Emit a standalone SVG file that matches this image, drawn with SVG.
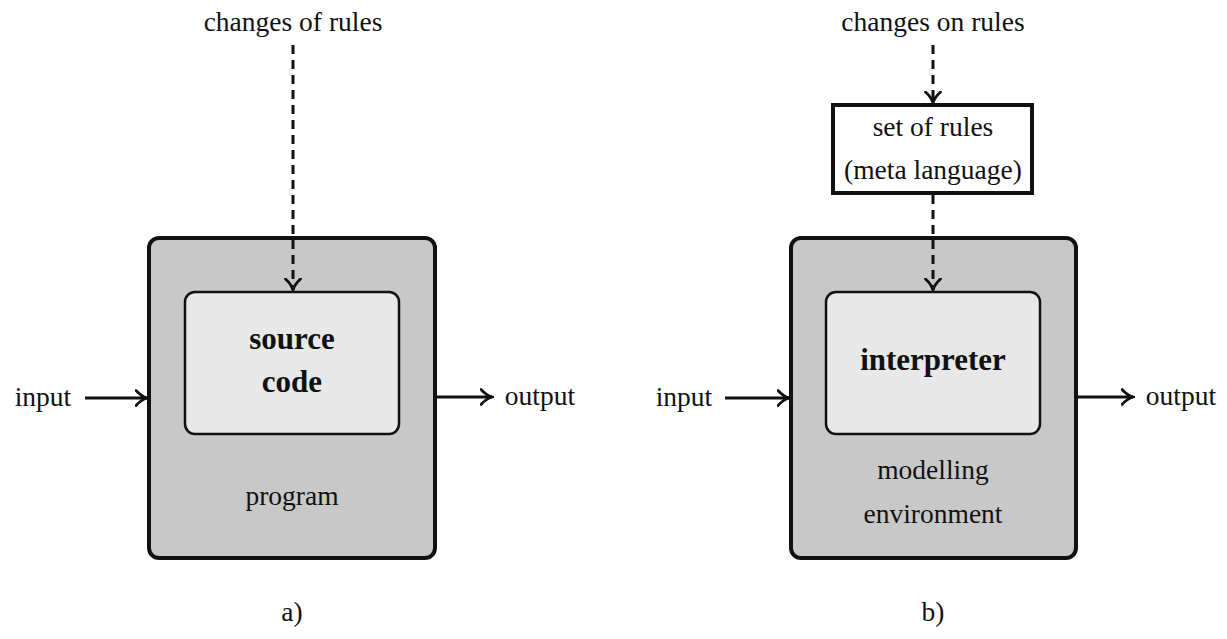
<svg xmlns="http://www.w3.org/2000/svg" width="1227" height="639" viewBox="0 0 1227 639">
<style>
text{font-family:"Liberation Serif","Times New Roman",serif;font-size:27.5px;fill:#111;text-anchor:middle}
.b{font-weight:bold;font-size:31px}
.outer{fill:#c8c8c8;stroke:#111;stroke-width:4}
.inner{fill:#e8e8e8;stroke:#111;stroke-width:2.5}
.rules{fill:#fff;stroke:#111;stroke-width:4}
.solid{fill:none;stroke:#111;stroke-width:3}
.dash{fill:none;stroke:#111;stroke-width:3;stroke-dasharray:9 6}
</style>
<defs>
<marker id="ah" viewBox="0 0 14 18" refX="12.5" refY="9" markerWidth="14" markerHeight="18" markerUnits="userSpaceOnUse" orient="auto">
<path d="M1.5,1.5 Q7,7.5 12.5,9 Q7,10.5 1.5,16.5" fill="none" stroke="#111" stroke-width="2.8" stroke-linecap="round"/>
</marker>
</defs>
<g id="program">
<rect class="outer" x="149" y="238" width="286" height="320" rx="10"/>
<text x="292" y="505">program</text>
</g>
<g id="source-code">
<rect class="inner" x="185" y="292" width="214" height="142" rx="10"/>
<text class="b" x="292" y="349">source</text>
<text class="b" x="292" y="392">code</text>
</g>
<g id="env">
<rect class="outer" x="791" y="238" width="285" height="320" rx="10"/>
<text x="933" y="479">modelling</text>
<text x="933" y="523">environment</text>
</g>
<g id="interpreter">
<rect class="inner" x="826" y="292" width="214" height="142" rx="10"/>
<text class="b" x="933" y="370">interpreter</text>
</g>
<g id="set-of-rules">
<rect class="rules" x="833" y="105" width="199" height="88"/>
<text x="933" y="136">set of rules</text>
<text x="933" y="179">(meta language)</text>
</g>
<g id="labels">
<text x="293" y="31">changes of rules</text>
<text x="933" y="31">changes on rules</text>
<text x="43" y="406">input</text>
<text x="540" y="405">output</text>
<text x="684" y="406">input</text>
<text x="1181" y="405">output</text>
<text x="292" y="621">a)</text>
<text x="933" y="621">b)</text>
</g>
<g id="connectors">
<path class="dash" d="M293,45 V290" marker-end="url(#ah)"/>
<path class="solid" d="M85,398 H147" marker-end="url(#ah)"/>
<path class="solid" d="M437,397 H492" marker-end="url(#ah)"/>
<path class="dash" d="M933,45 V103" marker-end="url(#ah)"/>
<path class="dash" d="M933,195 V290" marker-end="url(#ah)"/>
<path class="solid" d="M725,398 H789" marker-end="url(#ah)"/>
<path class="solid" d="M1078,397 H1133" marker-end="url(#ah)"/>
</g>
</svg>
